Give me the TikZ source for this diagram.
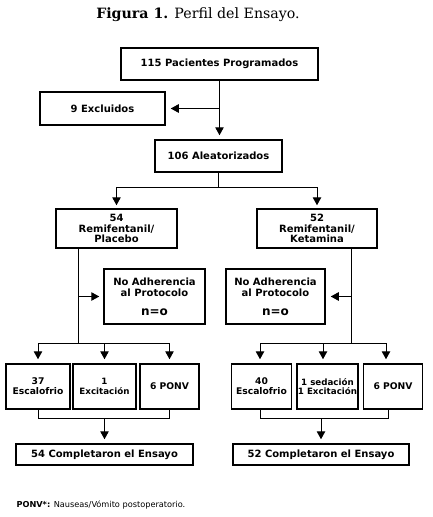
\documentclass[tikz,border=0pt]{standalone}
\usepackage{fontspec}
\setsansfont{DejaVu Sans}
\newfontfamily\titlefont{DejaVu Serif}
\usetikzlibrary{arrows.meta}
\tikzset{
box/.style = {rectangle, draw=black, line width=1.5pt, align=center,
              inner sep=1pt, font=\sffamily\bfseries\fontsize{10}{10.8}\selectfont},
small/.style = {font=\sffamily\bfseries\fontsize{9.2}{10}\selectfont},
tiny/.style = {font=\sffamily\bfseries\fontsize{8.7}{9.8}\selectfont}
}
\tikzset{
flow/.style = {line width=1pt},
>={Triangle[width=8.5pt,length=8pt]}
}

\begin{document}
\begin{tikzpicture}[x=1pt, y=-1pt]
\useasboundingbox (0,0) rectangle (433,517);

\node[font=\titlefont\fontsize{14.2}{16}\selectfont] (title) at (198,15) {\textbf{Figura 1.} Perfil del Ensayo.};

\node[box, minimum width=197pt, minimum height=32pt] (prog) at (219.5,64) {115 Pacientes Programados};
\node[box, minimum width=125pt, minimum height=33pt] (excl) at (102.5,108.5) {9 Excluidos};
\node[box, minimum width=127pt, minimum height=32pt] (aleat) at (218.5,156) {106 Aleatorizados};
\node[box, minimum width=121pt, minimum height=39pt] (remiP) at (116.5,228.5) {54\\Remifentanil/\\Placebo};
\node[box, minimum width=120pt, minimum height=39pt] (remiK) at (317,228.5) {52\\Remifentanil/\\Ketamina};
\node[box, minimum width=101pt, minimum height=55pt] (noadhP) at (154.5,296.5) {No Adherencia\\al Protocolo\\[8pt]{\fontsize{12}{13}\selectfont n=o}};
\node[box, minimum width=99pt, minimum height=55pt] (noadhK) at (275.5,296.5) {No Adherencia\\al Protocolo\\[8pt]{\fontsize{12}{13}\selectfont n=o}};

\node[box, small, minimum width=64pt, minimum height=45pt] (escP) at (38,386.5) {37\\Escalofrio};
\node[box, tiny, minimum width=63pt, minimum height=45pt] (excP) at (104.5,386.5) {1\\Excitación};
\node[box, small, minimum width=59pt, minimum height=45pt] (ponvP) at (169.5,386.5) {6 PONV};
\node[box, small, minimum width=60pt, minimum height=45pt] (escK) at (261.5,386.5) {40\\Escalofrio};
\node[box, tiny, minimum width=60pt, minimum height=45pt] (sedK) at (327.5,386.5) {1 sedación\\1 Excitación};
\node[box, small, minimum width=59pt, minimum height=45pt] (ponvK) at (393,386.5) {6 PONV};

\node[box, minimum width=177pt, minimum height=21pt] (compP) at (104.5,454.5) {54 Completaron el Ensayo};
\node[box, minimum width=176pt, minimum height=21pt] (compK) at (321,454.5) {52 Completaron el Ensayo};

\node[anchor=west, font=\sffamily\fontsize{8.2}{9}\selectfont] (nota) at (13,505) {\textbf{PONV*:} Nauseas/Vómito postoperatorio.};

% top of the chart
\coordinate (split1) at (prog.south |- excl.east);
\coordinate (split2) at (218.5,187);
\draw [flow,->,shorten >=4pt] (prog.south) -- (prog.south |- aleat.north);
\draw [flow,->,shorten >=5pt] (split1) -- (excl.east);
\draw [flow] (aleat.south) -- (split2);
\draw [flow,->,shorten >=3pt] (split2) -| (remiP.north);
\draw [flow,->,shorten >=3pt] (split2) -| (remiK.north);

% branch placebo
\coordinate (trunkP) at (78,343);
\draw [flow] (remiP.south -| trunkP) -- (trunkP);
\draw [flow,->,shorten >=4pt] (trunkP |- noadhP.west) -- (noadhP.west);
\draw [flow] (escP.north |- trunkP) -- (ponvP.north |- trunkP);
\foreach \b in {escP, excP, ponvP}
  \draw [flow,->,shorten >=4pt] (\b.north |- trunkP) -- (\b.north);
\draw [flow] (escP.south) -- ++(0,9) -| (ponvP.south);
\draw [flow,->,shorten >=4pt] (excP.south) ++(0,9) -- (excP.south |- compP.north);

% branch ketamina
\coordinate (trunkK) at (351,343);
\draw [flow] (remiK.south -| trunkK) -- (trunkK);
\draw [flow,->,shorten >=5pt] (trunkK |- noadhK.east) -- (noadhK.east);
\draw [flow] ([xshift=-1.5pt]escK.north |- trunkK) -- ([xshift=-7pt]ponvK.north |- trunkK);
\foreach \b/\d in {escK/-1.5, sedK/-4.5, ponvK/-7}
  \draw [flow,->,shorten >=4pt] ([xshift=\d pt]\b.north |- trunkK) -- ([xshift=\d pt]\b.north);
\draw [flow] ([xshift=-1pt]escK.south) -- ++(0,9) -| ([xshift=-5pt]ponvK.south);
\draw [flow,->,shorten >=4pt] (compK.north |- 0,419) -- (compK.north);
\end{tikzpicture}
\end{document}
